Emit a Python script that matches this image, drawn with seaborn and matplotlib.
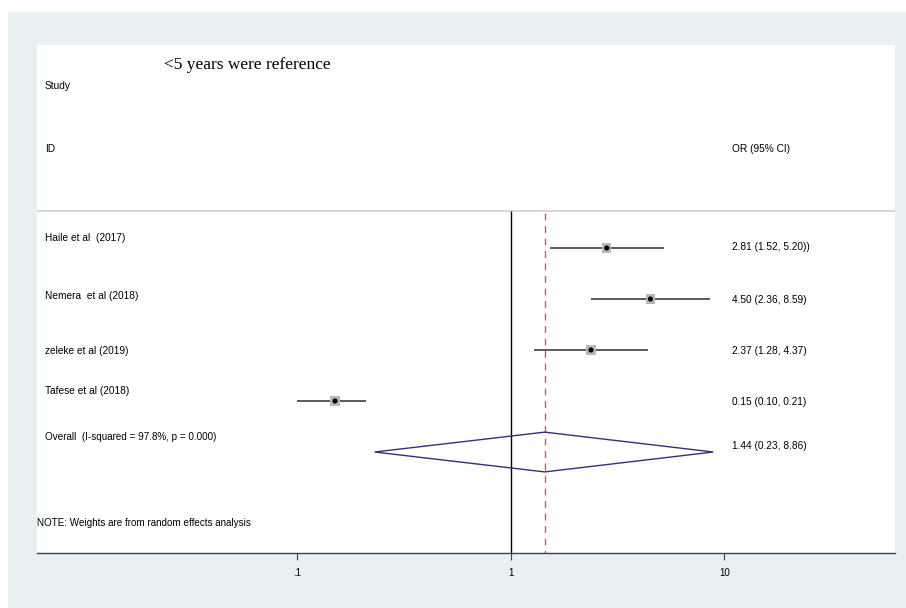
import numpy as np
import pandas as pd
import seaborn as sns
import matplotlib.pyplot as plt
from matplotlib.patches import Rectangle, Polygon

# --- data ---
studies = ["Haile et al  (2017)", "Nemera  et al (2018)", "zeleke et al (2019)", "Tafese et al (2018)"]
odds = [2.81, 4.50, 2.37, 0.15]
lower = [1.52, 2.36, 1.28, 0.10]
upper = [5.20, 8.59, 4.37, 0.21]
or_labels = ["2.81 (1.52, 5.20))", "4.50 (2.36, 8.59)", "2.37 (1.28, 4.37)", "0.15 (0.10, 0.21)"]

overall_label = "Overall  (I-squared = 97.8%, p = 0.000)"
overall_or = 1.44
overall_lo = 0.23
overall_hi = 8.86
overall_text = "1.44 (0.23, 8.86)"

x_ticks = [0.1, 1, 10]
x_ticklabels = [".1", "1", "10"]

df = pd.DataFrame({"study": studies, "OR": odds, "lo": lower, "hi": upper,
                   "row": np.arange(len(studies))})
overall_row = len(studies)

# layout (row units, rows are 51 px apart)
label_shift = [-0.2, -0.06, 0.02, -0.2]
value_shift = [-0.02, 0.02, 0.02, 0.02]

sns.set_theme(style="white")
sans = ["Liberation Sans Narrow", "Liberation Sans", "DejaVu Sans"]
plt.rcParams["font.family"] = sans
plt.rcParams["text.color"] = "black"
plt.rcParams["xtick.color"] = "black"

W, H = 906, 608
fig = plt.figure(figsize=(W / 100, H / 100), dpi=100, facecolor="white")
fig.patches.append(Rectangle((8 / W, 0), 1, 1 - 12 / H, transform=fig.transFigure,
                             facecolor="#e8f0f3", edgecolor="none", zorder=-10))

ax = fig.add_axes([37 / W, (H - 553) / H, (895 - 37) / W, (553 - 45) / H])
ax.set_facecolor("white")
ax.set_xscale("log")
ax.set_xlim(0.00603, 62.9)
ax.set_ylim(5.98, -3.98)

# reference lines
ax.axhline(-0.725, color="#d0d0d0", lw=1.2)
ax.vlines(1, -0.72, 5.98, color="black", lw=1)
ax.vlines(overall_or, -0.68, 5.98, color="#b06a6a", lw=1, linestyles=(0, (5, 4)))

# study CIs and point estimates
ax.hlines(df["row"], df["lo"], df["hi"], color="#5a5a5a", lw=1.4, zorder=3)
sns.scatterplot(data=df, x="OR", y="row", marker="s", s=45, color="#b8b8b8",
                edgecolor="none", ax=ax, zorder=4, legend=False)
sns.scatterplot(data=df, x="OR", y="row", marker="o", s=14, color="black",
                edgecolor="none", ax=ax, zorder=5, legend=False)

# pooled diamond
diamond = Polygon([(overall_lo, overall_row), (overall_or, overall_row - 0.39),
                   (overall_hi, overall_row), (overall_or, overall_row + 0.39)],
                  closed=True, fill=False, edgecolor="#3b2a80", lw=1, zorder=4)
ax.add_patch(diamond)

# text columns
tr = ax.get_yaxis_transform()
left_x = (45 - 37) / (895 - 37)
right_x = (732 - 37) / (895 - 37)
fs = 7.3
for r, name in enumerate(studies):
    ax.text(left_x, r + label_shift[r], name, transform=tr, fontsize=fs, va="center", ha="left")
    ax.text(right_x, r + value_shift[r], or_labels[r], transform=tr, fontsize=fs, va="center", ha="left")
ax.text(left_x, overall_row - 0.3, overall_label, transform=tr, fontsize=fs * 0.97, va="center", ha="left")
ax.text(right_x, overall_row - 0.12, overall_text, transform=tr, fontsize=fs, va="center", ha="left")

ax.text(left_x, -3.18, "Study", transform=tr, fontsize=fs, va="center", ha="left")
ax.text(left_x, -1.94, "ID", transform=tr, fontsize=fs, va="center", ha="left")
ax.text(right_x, -1.94, "OR (95% CI)", transform=tr, fontsize=fs, va="center", ha="left")
ax.text((247 - 37) / (895 - 37), -3.59, "<5 years were reference", transform=tr,
        fontsize=12.5, va="center", ha="center", family="Liberation Serif")
ax.text(0.0, 5.39, "NOTE: Weights are from random effects analysis", transform=tr,
        fontsize=7.1, va="center", ha="left")

# axes styling
for side in ["top", "left", "right"]:
    ax.spines[side].set_visible(False)
ax.spines["bottom"].set_color("#404040")
ax.spines["bottom"].set_linewidth(1)
ax.set_xticks(x_ticks)
ax.set_xticklabels(x_ticklabels, fontsize=7)
ax.xaxis.set_minor_locator(plt.NullLocator())
ax.tick_params(axis="x", direction="out", length=5, width=0.8, color="#404040",
               labelcolor="black", pad=6, bottom=True)
ax.set_yticks([])
ax.set_xlabel("")
ax.set_ylabel("")

fig.savefig("out.png", dpi=100, facecolor=fig.get_facecolor())
